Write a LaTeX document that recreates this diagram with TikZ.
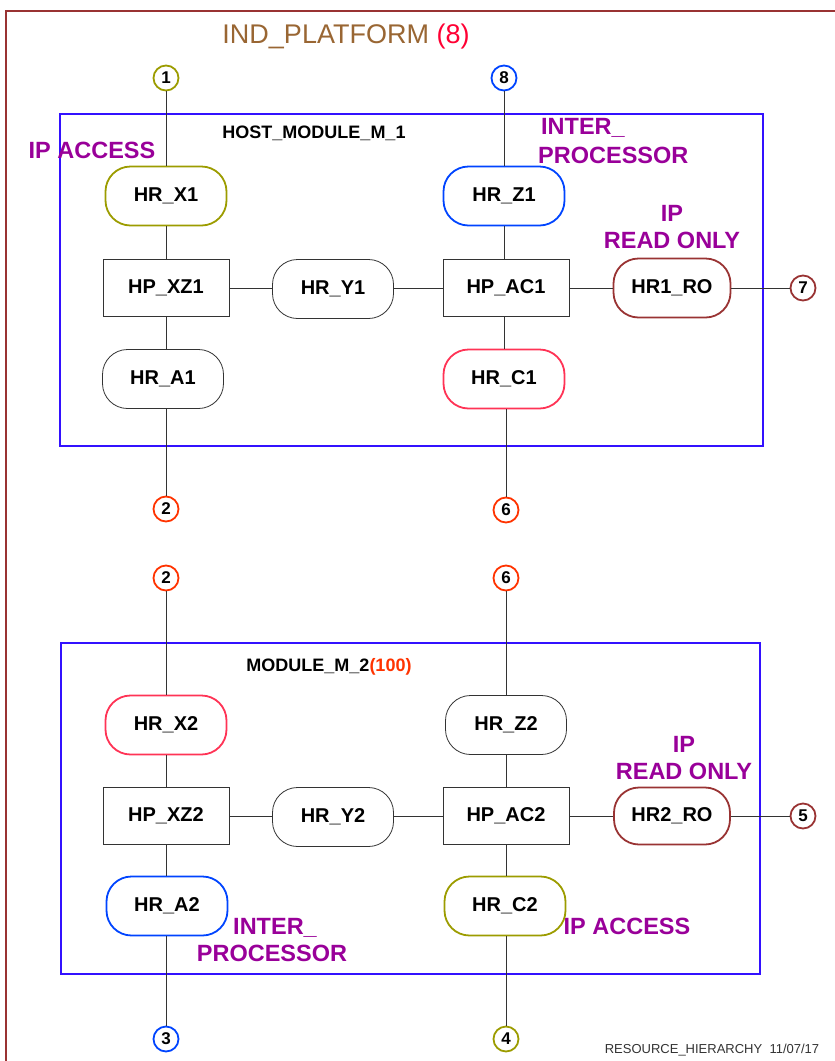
\documentclass[tikz,border=0pt]{standalone}
\usepackage{fontspec}
\setmainfont{Liberation Sans}
\usetikzlibrary{shapes.geometric}
\definecolor{olivec}{HTML}{9C9C00}
\definecolor{nblue}{HTML}{0044FF}
\definecolor{boxblue}{HTML}{3311FF}
\definecolor{nred}{HTML}{FF3355}
\definecolor{ored}{HTML}{FF3300}
\definecolor{rob}{HTML}{993333}
\definecolor{purp}{HTML}{990099}
\definecolor{tbrown}{HTML}{996633}
\definecolor{tred}{HTML}{FF0033}
\definecolor{lgray}{HTML}{333333}
\tikzset{
  hr/.style={draw=lgray, line width=0.8pt, rounded corners=25pt, minimum width=121pt, minimum height=59pt, font=\bfseries\fontsize{20}{21}\selectfont, inner sep=0pt},
  hrc/.style={hr, line width=1.8pt},
  hp/.style={draw=lgray, line width=0.8pt, minimum width=126pt, minimum height=57pt, font=\bfseries\fontsize{20}{21}\selectfont, inner sep=0pt},
  pin/.style={ellipse, draw, line width=1.8pt, minimum width=25pt, minimum height=25pt, inner sep=0pt, font=\bfseries\fontsize{17}{18}\selectfont},
  conn/.style={draw=lgray, line width=0.8pt},
  modbox/.style={draw=boxblue, line width=2pt},
  plabel/.style={text=purp, font=\bfseries\fontsize{23.5}{25}\selectfont, inner sep=0pt},
  mlabel/.style={font=\bfseries\fontsize{18}{19}\selectfont, inner sep=0pt}
}
\begin{document}
\begin{tikzpicture}[x=1pt,y=-1pt]
\useasboundingbox (0,0) rectangle (835,1061);
\clip (0,0) rectangle (835,1061);
\draw[rob, line width=2.5pt] (6,11) rectangle (900,1100);
\node[inner sep=0pt, font=\fontsize{27}{29}\selectfont] (title) at (346,37) {\textcolor{tbrown}{IND\_PLATFORM} \textcolor{tred}{(8)}};

% module 1
\draw[modbox] (60,114) rectangle (763,446);
\node[mlabel] (m1) at (314,133) {HOST\_MODULE\_M\_1};
\node[plabel] (ipa1) at (92,150) {IP ACCESS};
\node[plabel, anchor=west] (int1) at (541,128) {INTER\_};
\node[plabel, anchor=west] (proc1) at (538,155) {PROCESSOR};
\node[plabel] (ip1) at (672,213) {IP};
\node[plabel] (ro1) at (672,240) {READ ONLY};

\node[pin, draw=olivec] (c1) at (166,78) {1};
\node[pin, draw=nblue] (c8) at (504,78) {8};
\node[hrc, draw=olivec] (hrx1) at (166,196) {HR\_X1};
\node[hrc, draw=nblue] (hrz1) at (504,196) {HR\_Z1};
\node[hp] (hpxz1) at (166,288) {HP\_XZ1};
\node[hr] (hry1) at (333,289) {HR\_Y1};
\node[hp] (hpac1) at (506,288) {HP\_AC1};
\node[hrc, draw=rob, minimum width=117pt] (ro1n) at (672,288) {HR1\_RO};
\node[pin, draw=rob] (c7) at (803,288) {7};
\node[hr] (hra1) at (163,379) {HR\_A1};
\node[hrc, draw=nred] (hrc1) at (504,379) {HR\_C1};
\node[pin, draw=ored] (c2a) at (166,509) {2};
\node[pin, draw=ored] (c6a) at (506,510) {6};

\draw[conn] (c1) -- (hrx1.north -| c1);
\draw[conn] (hrx1.south -| c1) -- (hpxz1.north -| c1);
\draw[conn] (hpxz1.south -| c1) -- (hra1.north -| c1);
\draw[conn] (hra1.south -| c1) -- (c2a);
\draw[conn] (c8) -- (hrz1.north -| c8);
\draw[conn] (hrz1.south -| c8) -- (hpac1.north -| c8);
\draw[conn] (hpac1.south -| c8) -- (hrc1.north -| c8);
\draw[conn] (hrc1.south -| c6a) -- (c6a);
\draw[conn] (hpxz1.east) -- (hry1.west |- hpxz1.east);
\draw[conn] (hry1.east |- hpac1.west) -- (hpac1.west);
\draw[conn] (hpac1.east) -- (ro1n.west |- hpac1.east);
\draw[conn] (ro1n.east |- c7) -- (c7);

% module 2
\draw[modbox] (61,643) rectangle (760,974);
\node[mlabel] (m2) at (329,667) {MODULE\_M\_2\textcolor{ored}{(100)}};
\node[plabel] (int2) at (275,928) {INTER\_};
\node[plabel] (proc2) at (272,953) {PROCESSOR};
\node[plabel] (ip2) at (684,744) {IP};
\node[plabel] (ro2) at (684,771) {READ ONLY};
\node[plabel] (ipa2) at (627,926) {IP ACCESS};

\node[pin, draw=ored] (c2b) at (166,578) {2};
\node[pin, draw=ored] (c6b) at (506,578) {6};
\node[hrc, draw=nred] (hrx2) at (166,725) {HR\_X2};
\node[hr] (hrz2) at (506,725) {HR\_Z2};
\node[hp] (hpxz2) at (166,816) {HP\_XZ2};
\node[hr] (hry2) at (333,817) {HR\_Y2};
\node[hp] (hpac2) at (506,816) {HP\_AC2};
\node[hrc, draw=rob, minimum width=116pt, minimum height=57pt] (ro2n) at (672,816) {HR2\_RO};
\node[pin, draw=rob] (c5) at (803,816) {5};
\node[hrc, draw=nblue] (hra2) at (167,906) {HR\_A2};
\node[hrc, draw=olivec] (hrc2) at (505,906) {HR\_C2};
\node[pin, draw=nblue] (c3) at (166,1039) {3};
\node[pin, draw=olivec] (c4) at (506,1039) {4};

\draw[conn] (c2b) -- (hrx2.north -| c2b);
\draw[conn] (hrx2.south -| c2b) -- (hpxz2.north -| c2b);
\draw[conn] (hpxz2.south -| c2b) -- (hra2.north -| c2b);
\draw[conn] (hra2.south -| c3) -- (c3);
\draw[conn] (c6b) -- (hrz2.north -| c6b);
\draw[conn] (hrz2.south -| c6b) -- (hpac2.north -| c6b);
\draw[conn] (hpac2.south -| c6b) -- (hrc2.north -| c6b);
\draw[conn] (hrc2.south -| c4) -- (c4);
\draw[conn] (hpxz2.east) -- (hry2.west |- hpxz2.east);
\draw[conn] (hry2.east |- hpac2.west) -- (hpac2.west);
\draw[conn] (hpac2.east) -- (ro2n.west |- hpac2.east);
\draw[conn] (ro2n.east |- c5) -- (c5);

\node[inner sep=0pt, font=\fontsize{13}{14}\selectfont, text=lgray] (foot) at (712,1050) {RESOURCE\_HIERARCHY\ \ 11/07/17};
\end{tikzpicture}
\end{document}
